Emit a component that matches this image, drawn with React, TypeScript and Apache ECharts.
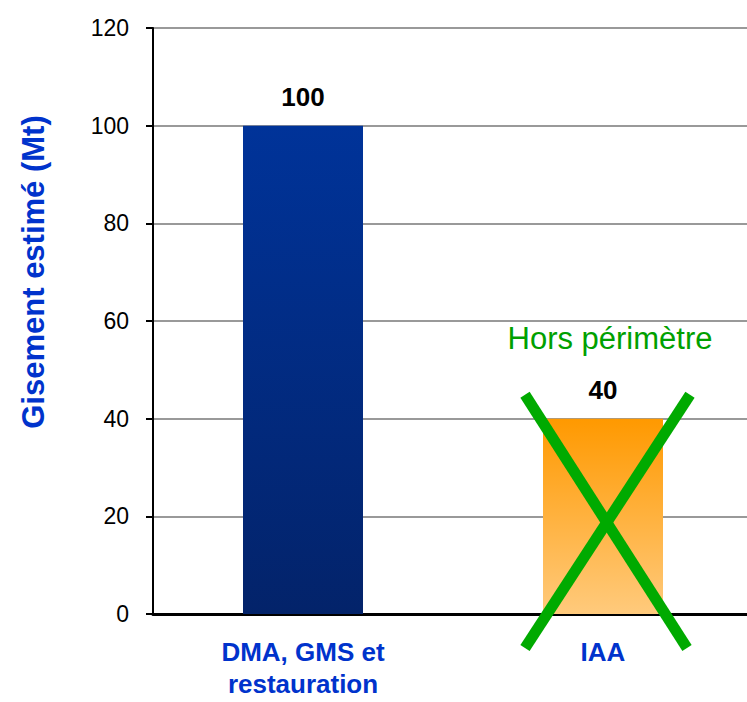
import React, { useEffect, useRef } from "react";
import * as echarts from "echarts";

const categories = ["DMA, GMS et\nrestauration", "IAA"];
const values = [100, 40];
const yTicks = { min: 0, max: 120, interval: 20 };
const axisName = "Gisement estimé (Mt)";
const annotation = "Hors périmètre";

const SANS = "'Liberation Sans', Arial, sans-serif";

export default function App() {
  const ref = useRef<HTMLDivElement>(null);
  useEffect(() => {
    if (!ref.current) return;
    const chart = echarts.init(ref.current, null, { renderer: "svg" });
    const colors = [
      new echarts.graphic.LinearGradient(0, 0, 0, 1, [
        { offset: 0, color: "#003399" },
        { offset: 1, color: "#03236A" },
      ]),
      new echarts.graphic.LinearGradient(0, 0, 0, 1, [
        { offset: 0, color: "#FF9900" },
        { offset: 1, color: "#FFCA7C" },
      ]),
    ];
    chart.setOption({
      animation: false,
      grid: { left: 153, top: 28, bottom: 88, right: -6, outerBoundsMode: "none", containLabel: false },
      xAxis: {
        type: "category",
        data: categories,
        axisLine: { lineStyle: { color: "#000", width: 3 } },
        axisTick: { length: 7, lineStyle: { color: "#000", width: 2 } },
        axisLabel: {
          color: "#0033CC",
          fontFamily: SANS,
          fontWeight: "bold",
          fontSize: 26,
          lineHeight: 32,
          margin: 22,
          interval: 0,
        },
      },
      yAxis: {
        type: "value",
        min: yTicks.min,
        max: yTicks.max,
        interval: yTicks.interval,
        axisLine: { show: true, lineStyle: { color: "#000", width: 2 } },
        axisTick: { show: true, length: 7, lineStyle: { color: "#000", width: 2 } },
        splitLine: { lineStyle: { color: "#999", width: 2 } },
        axisLabel: {
          color: "#000",
          fontFamily: SANS,
          fontSize: 23,
          margin: 24,
        },
      },
      series: [
        {
          type: "bar",
          barWidth: 120,
          data: values.map((v, i) => ({ value: v, itemStyle: { color: colors[i] } })),
          label: {
            show: true,
            position: "top",
            distance: 16,
            color: "#000",
            fontFamily: SANS,
            fontWeight: "bold",
            fontSize: 26,
          },
        },
      ],
    });
    const c = chart.convertToPixel({ gridIndex: 0 }, [categories[1], 0]) as number[];
    const topY = chart.convertToPixel({ gridIndex: 0 }, [categories[1], values[1]]) as number[];
    const cx = c[0] + 3;
    const y0 = c[1];
    const top = topY[1] - 24;
    const bottom = y0 + 34;
    const green = "#00AA00";
    chart.setOption({
      graphic: [
        {
          type: "text",
          x: 33,
          y: 272,
          rotation: Math.PI / 2,
          z: 100,
          style: {
            text: axisName,
            fill: "#0033CC",
            font: `bold 31px ${SANS}`,
            align: "center",
            verticalAlign: "middle",
          },
        },
        {
          type: "text",
          x: c[0] + 7,
          y: topY[1] - 80,
          z: 100,
          style: {
            text: annotation,
            fill: "#00A000",
            font: `31px ${SANS}`,
            align: "center",
            verticalAlign: "middle",
          },
        },
        {
          type: "line",
          z: 100,
          shape: { x1: cx - 81, y1: top, x2: cx + 81, y2: bottom },
          style: { stroke: green, lineWidth: 11 },
        },
        {
          type: "line",
          z: 100,
          shape: { x1: cx + 84, y1: top, x2: cx - 81, y2: bottom },
          style: { stroke: green, lineWidth: 11 },
        },
      ],
    });
    return () => chart.dispose();
  }, []);
  return (
    <div
      ref={ref}
      style={{ position: "fixed", left: 0, top: 0, width: 747, height: 702, background: "#fff" }}
    />
  );
}
